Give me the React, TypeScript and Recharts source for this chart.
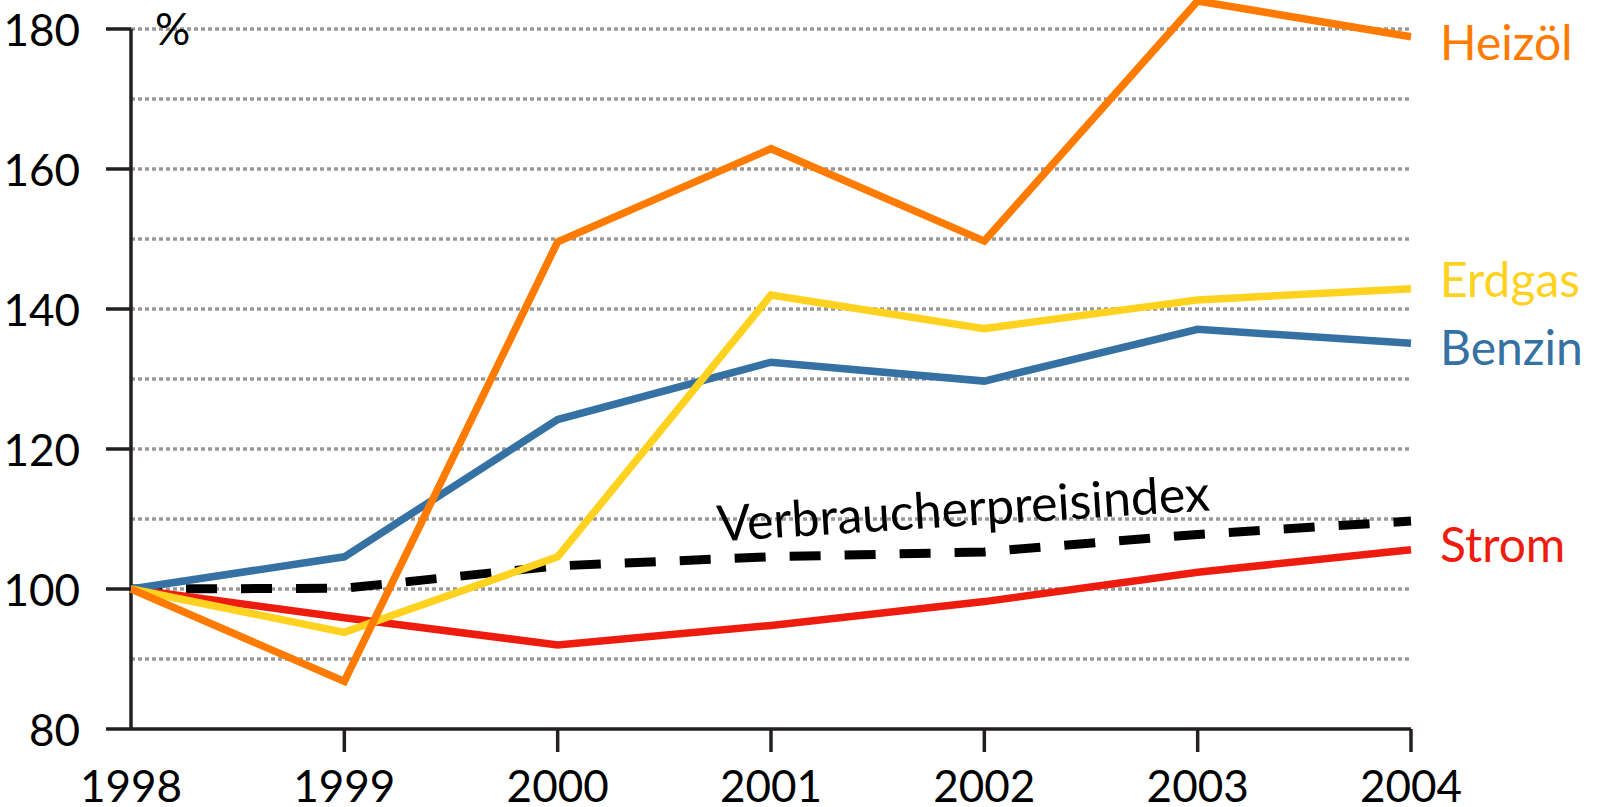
import { LineChart, Line, XAxis, YAxis, CartesianGrid, ReferenceLine } from "recharts";

const years = [1998, 1999, 2000, 2001, 2002, 2003, 2004];
const heizoel = [100, 86.8, 149.6, 162.9, 149.7, 184, 178.9];
const erdgas = [100, 93.8, 104.6, 142.0, 137.2, 141.3, 142.9];
const benzin = [100, 104.6, 124.2, 132.4, 129.7, 137.1, 135.1];
const strom = [100, 95.9, 92.0, 94.8, 98.2, 102.4, 105.6];
const vpi = [100, 100.1, 103.3, 104.6, 105.3, 107.8, 109.7];

const yTicks = [80, 100, 120, 140, 160, 180];
const gridValues = [90, 100, 110, 120, 130, 140, 150, 160, 170, 180];

const data = years.map((year, i) => ({
  year,
  heizoel: heizoel[i],
  erdgas: erdgas[i],
  benzin: benzin[i],
  strom: strom[i],
  vpi: vpi[i],
}));

const FONT = "Lato, 'Open Sans', sans-serif";
const AXIS = "#231f20";

// end-of-line labels, dy = baseline offset from the last point
const series = [
  { key: "strom", name: "Strom", color: "#ee1c0e", dy: 12 },
  { key: "benzin", name: "Benzin", color: "#3571a3", dy: 22 },
  { key: "erdgas", name: "Erdgas", color: "#ffd21f", dy: 8 },
  { key: "heizoel", name: "Heizöl", color: "#ff7b00", dy: 23 },
];

const endLabel = (name: string, color: string, dy: number) => (props: any) => {
  if (props.index !== years.length - 1) return null;
  return (
    <text x={props.x + 29} y={props.y + dy} fill={color} fontSize={48} fontFamily={FONT}>
      {name}
    </text>
  );
};

const vpiLabel = (props: any) => {
  if (props.index !== 4) return null;
  const x = props.x - 20;
  const y = props.y - 26;
  return (
    <text
      x={x}
      y={y}
      textAnchor="middle"
      fill="#000"
      fontSize={50}
      fontFamily={FONT}
      transform={`rotate(-3.6 ${x} ${y})`}
    >
      Verbraucherpreisindex
    </text>
  );
};

const XTick = (props: any) => {
  const { x, y, payload } = props;
  return (
    <g>
      {payload.value !== 1998 && (
        <line x1={x} x2={x} y1={y} y2={y + 23} stroke={AXIS} strokeWidth={3.5} />
      )}
      <text x={x} y={y + 73} textAnchor="middle" fontSize={44} fontFamily={FONT} fill="#000">
        {payload.value}
      </text>
    </g>
  );
};

const YTick = (props: any) => {
  const { x, y, payload } = props;
  return (
    <text x={x} y={y + 17} textAnchor="end" fontSize={44} fontFamily={FONT} fill="#000">
      {payload.value}
    </text>
  );
};

export default function App() {
  return (
    <div style={{ position: "absolute", left: 0, top: 0, background: "#fff" }}>
      <LineChart
        width={1599}
        height={807}
        data={data}
        margin={{ top: 0, right: 188, bottom: 0, left: 0 }}
      >
        <CartesianGrid
          vertical={false}
          horizontalValues={gridValues}
          stroke="#999"
          strokeWidth={3.5}
          strokeDasharray="4 3"
        />
        <XAxis
          dataKey="year"
          type="number"
          domain={[1998, 2004]}
          ticks={years}
          interval={0}
          height={78}
          tickSize={0}
          tickMargin={0}
          axisLine={{ stroke: AXIS, strokeWidth: 3.5 }}
          tickLine={false}
          tick={<XTick />}
        />
        <YAxis
          type="number"
          domain={[80, 184.14]}
          ticks={yTicks}
          interval={0}
          width={131}
          tickSize={25}
          tickMargin={26}
          axisLine={false}
          tickLine={{ stroke: AXIS, strokeWidth: 3.5 }}
          tick={<YTick />}
          label={(props: any) => (
            <text x={155} y={45} fontSize={44} fontFamily={FONT} fill="#000">
              %
            </text>
          )}
        />
        <ReferenceLine
          segment={[
            { x: 1998, y: 80 },
            { x: 1998, y: 180 },
          ]}
          stroke={AXIS}
          strokeWidth={3.5}
        />
        <Line
          dataKey="vpi"
          stroke="#000"
          strokeWidth={9}
          strokeDasharray="31 24"
          dot={false}
          isAnimationActive={false}
          label={vpiLabel}
        />
        {series.map((s) => (
          <Line
            key={s.key}
            dataKey={s.key}
            stroke={s.color}
            strokeWidth={7.5}
            dot={false}
            isAnimationActive={false}
            label={endLabel(s.name, s.color, s.dy)}
          />
        ))}
      </LineChart>
    </div>
  );
}
